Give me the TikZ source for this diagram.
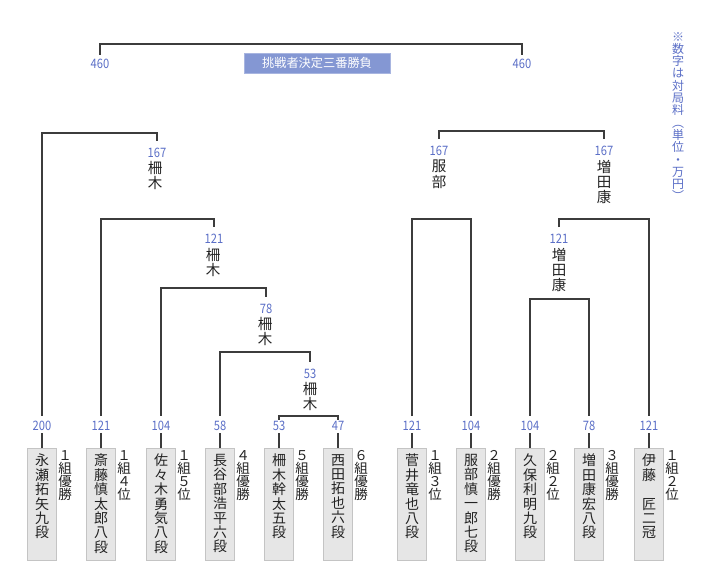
\documentclass[tikz,border=0pt]{standalone}
\usepackage{fontspec}
\newfontfamily\jp{Noto Sans CJK JP}
\newfontfamily\numfont{Noto Sans CJK JP}[FakeStretch=0.86]
\definecolor{linec}{HTML}{3C3C3C}
\definecolor{numc}{HTML}{5B6FC7}
\definecolor{boxf}{HTML}{E6E6E6}
\definecolor{boxd}{HTML}{C4C4C4}
\definecolor{titlef}{HTML}{8497D3}
\definecolor{titled}{HTML}{A8B5E0}
\definecolor{txtc}{HTML}{222222}
\lineskiplimit=-8pt
\tikzset{
 ln/.style={draw=linec, line width=1.3pt},
 num/.style={text=numc, font=\numfont\fontsize{13}{13}\selectfont, inner sep=0pt},
 win/.style={font=\jp\fontsize{14.5}{15.2}\selectfont, align=center, inner sep=0pt, anchor=north, text=txtc},
 pbox/.style={draw=boxd, fill=boxf, minimum width=29pt, minimum height=112pt, inner sep=0pt},
 pname/.style={font=\jp\fontsize{14}{14.4}\selectfont, align=center, inner sep=0pt, anchor=north, text=txtc},
 pside/.style={font=\jp\fontsize{13.5}{13.2}\selectfont, align=center, inner sep=0pt, anchor=north, text=txtc},
 titlebox/.style={draw=titled, fill=titlef, text=white, font=\jp\fontsize{12.2}{13}\selectfont, minimum width=146pt, minimum height=20pt, inner sep=0pt},
 note/.style={font=\jp\fontsize{12}{12.3}\selectfont, align=center, inner sep=0pt, anchor=north, text=numc},
}
\begin{document}
\begin{tikzpicture}[x=1pt,y=-1pt]
\useasboundingbox[fill=white] (0,0) rectangle (720,575);

% levels
\coordinate (hT) at (0,44);
\coordinate (hA) at (0,133);
\coordinate (hB) at (0,219);
\coordinate (hC) at (0,288);
\coordinate (hD) at (0,352);
\coordinate (hE) at (0,416);
\coordinate (hF) at (0,131);
\coordinate (hG) at (0,219);
\coordinate (hH) at (0,219);
\coordinate (hI) at (0,299);

% top
\node[num] (t460a) at (100,64) {460};
\node[num] (t460b) at (522,64) {460};
\node[titlebox] (title) at (317,63) {挑戦者決定三番勝負};
\draw[ln] ([yshift=4pt]t460a.north) -- (t460a.north |- hT) -- (t460b.north |- hT) -- ([yshift=4pt]t460b.north);

% note
\node[note] (nt) at (678,32) {※\\数\\字\\は\\対\\局\\料\\︵\\単\\位\\・\\万\\円\\︶};

% bottom labels
\node[num] (p1) at (42,426) {200};
\node[num] (p2) at (101,426) {121};
\node[num] (p3) at (161,426) {104};
\node[num] (p4) at (220,426) {58};
\node[num] (p5) at (279,426) {53};
\node[num] (p6) at (338,426) {47};
\node[num] (p7) at (412,426) {121};
\node[num] (p8) at (471,426) {104};
\node[num] (p9) at (530,426) {104};
\node[num] (p10) at (589,426) {78};
\node[num] (p11) at (649,426) {121};

% boxes
\node[pbox] (b1) at (42,504) {};
\node[pbox] (b2) at (101,504) {};
\node[pbox] (b3) at (161,504) {};
\node[pbox] (b4) at (220,504) {};
\node[pbox] (b5) at (279,504) {};
\node[pbox] (b6) at (338,504) {};
\node[pbox] (b7) at (412,504) {};
\node[pbox] (b8) at (471,504) {};
\node[pbox] (b9) at (530,504) {};
\node[pbox] (b10) at (589,504) {};
\node[pbox] (b11) at (649,504) {};

% names
\node[pname] (m1) at (42,454) {永\\瀬\\拓\\矢\\九\\段};
\node[pname] (m2) at (101,454) {斎\\藤\\慎\\太\\郎\\八\\段};
\node[pname] (m3) at (161,454) {佐\\々\\木\\勇\\気\\八\\段};
\node[pname] (m4) at (220,454) {長\\谷\\部\\浩\\平\\六\\段};
\node[pname] (m5) at (279,454) {柵\\木\\幹\\太\\五\\段};
\node[pname] (m6) at (338,454) {西\\田\\拓\\也\\六\\段};
\node[pname] (m7) at (412,454) {菅\\井\\竜\\也\\八\\段};
\node[pname] (m8) at (471,454) {服\\部\\慎\\一\\郎\\七\\段};
\node[pname] (m9) at (530,454) {久\\保\\利\\明\\九\\段};
\node[pname] (m10) at (589,454) {増\\田\\康\\宏\\八\\段};
\node[pname] (m11) at (649,454) {伊\\藤\\\phantom{匠}\\匠\\二\\冠};

% side notes
\node[pside] (s1) at (65,450) {１\\組\\優\\勝};
\node[pside] (s2) at (124,450) {１\\組\\４\\位};
\node[pside] (s3) at (184,450) {１\\組\\５\\位};
\node[pside] (s4) at (243,450) {４\\組\\優\\勝};
\node[pside] (s5) at (302,450) {５\\組\\優\\勝};
\node[pside] (s6) at (361,450) {６\\組\\優\\勝};
\node[pside] (s7) at (435,450) {１\\組\\３\\位};
\node[pside] (s8) at (494,450) {２\\組\\優\\勝};
\node[pside] (s9) at (553,450) {２\\組\\２\\位};
\node[pside] (s10) at (612,450) {３\\組\\優\\勝};
\node[pside] (s11) at (672,450) {１\\組\\２\\位};

% label to box
\foreach \i in {1,...,11}{
  \draw[ln] ([yshift=-2pt]p\i.south) -- (p\i.south |- b\i.north);
}

% winners left
\node[num] (wA) at (157,153) {167};
\node[win] (nA) at (155,161) {柵\\木};
\node[num] (wB) at (214,239) {121};
\node[win] (nB) at (213,248) {柵\\木};
\node[num] (wC) at (266,309) {78};
\node[win] (nC) at (265,317) {柵\\木};
\node[num] (wD) at (310,374) {53};
\node[win] (nD) at (310,382) {柵\\木};

\draw[ln] ([yshift=5pt]p1.north) -- (p1.north |- hA) -- (wA.north |- hA) -- ([yshift=7pt]wA.north);
\draw[ln] ([yshift=5pt]p2.north) -- (p2.north |- hB) -- (wB.north |- hB) -- ([yshift=7pt]wB.north);
\draw[ln] ([yshift=5pt]p3.north) -- (p3.north |- hC) -- (wC.north |- hC) -- ([yshift=7pt]wC.north);
\draw[ln] ([yshift=5pt]p4.north) -- (p4.north |- hD) -- (wD.north |- hD) -- ([yshift=7pt]wD.north);
\draw[ln] ([yshift=1pt]p5.north) -- (p5.north |- hE) -- (p6.north |- hE) -- ([yshift=1pt]p6.north);

% winners right
\node[num] (wF1) at (439,151) {167};
\node[win] (nF1) at (439,160) {服\\部};
\node[num] (wF2) at (604,151) {167};
\node[win] (nF2) at (604,160) {増\\田\\康};
\node[num] (wH) at (559,239) {121};
\node[win] (nH) at (559,248) {増\\田\\康};

\draw[ln] ([yshift=7pt]wF1.north) -- (wF1.north |- hF) -- (wF2.north |- hF) -- ([yshift=7pt]wF2.north);
\draw[ln] ([yshift=5pt]p7.north) -- (p7.north |- hG) -- (p8.north |- hG) -- ([yshift=5pt]p8.north);
\draw[ln] ([yshift=7pt]wH.north) -- (wH.north |- hH) -- (p11.north |- hH) -- ([yshift=5pt]p11.north);
\draw[ln] ([yshift=5pt]p9.north) -- (p9.north |- hI) -- (p10.north |- hI) -- ([yshift=5pt]p10.north);
\end{tikzpicture}
\end{document}
